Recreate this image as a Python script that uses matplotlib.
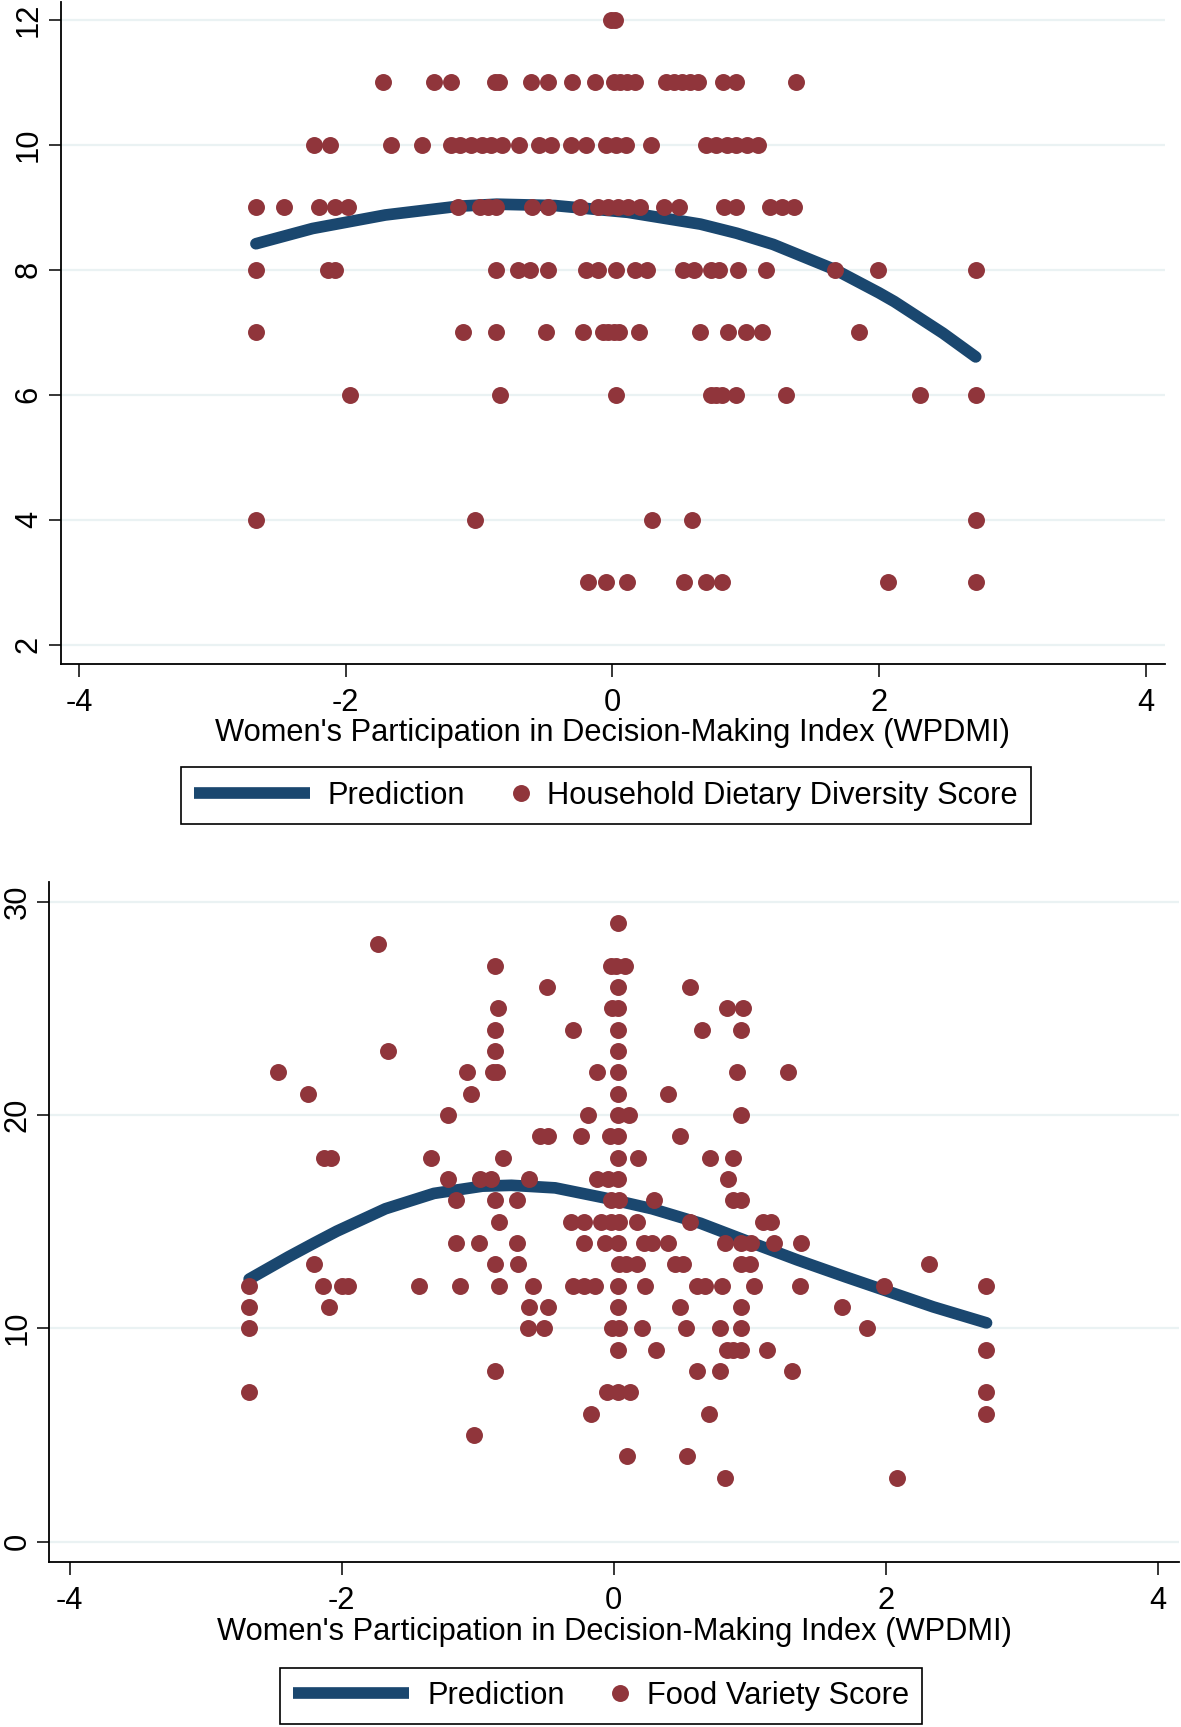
import numpy as np
import matplotlib
matplotlib.use("Agg")
import matplotlib.pyplot as plt
from matplotlib.lines import Line2D
from matplotlib.legend_handler import HandlerBase

plt.rcParams['font.family'] = ['Liberation Sans', 'DejaVu Sans']
plt.rcParams['axes.unicode_minus'] = False

NAVY = '#1A476F'
MAROON = '#90353B'
GRID = '#EAF2F3'
FS = 22.2

# ---------------- Top panel: Household Dietary Diversity Score ----------------
hdds_x_12 = [-0.01, 0.02]
hdds_x_11 = [-1.72, -1.34, -1.21, -0.88, -0.85, -0.61, -0.48, -0.30, -0.13, 0.01, 0.06,
             0.11, 0.17, 0.40, 0.46, 0.52, 0.58, 0.64, 0.83, 0.93, 1.38]
hdds_x_10 = [-2.24, -2.12, -1.66, -1.43, -1.21, -1.14, -1.06, -0.98, -0.91, -0.83, -0.70,
             -0.55, -0.46, -0.31, -0.20, -0.05, 0.03, 0.10, 0.29, 0.70, 0.78, 0.86, 0.93,
             1.01, 1.09]
hdds_x_9 = [-2.67, -2.46, -2.20, -2.08, -1.98, -1.16, -0.99, -0.93, -0.87, -0.60, -0.48,
            -0.24, -0.11, -0.03, 0.04, 0.12, 0.21, 0.39, 0.50, 0.84, 0.93, 1.18, 1.27, 1.36]
hdds_x_8 = [-2.67, -2.13, -2.08, -0.87, -0.71, -0.62, -0.48, -0.20, -0.11, 0.03, 0.17, 0.26,
            0.53, 0.61, 0.74, 0.80, 0.94, 1.15, 1.67, 1.99, 2.73]
hdds_x_7 = [-2.67, -1.12, -0.87, -0.50, -0.22, -0.07, -0.03, 0.01, 0.05, 0.20, 0.66, 0.87,
            1.00, 1.12, 1.85]
hdds_x_6 = [-1.97, -0.84, 0.03, 0.74, 0.78, 0.82, 0.93, 1.30, 2.31, 2.73]
hdds_x_4 = [-2.67, -1.03, 0.30, 0.60, 2.73]
hdds_x_3 = [-0.18, -0.05, 0.11, 0.54, 0.70, 0.82, 2.07, 2.73]

hdds_levels = [12, 11, 10, 9, 8, 7, 6, 4, 3]
hdds_rows = [hdds_x_12, hdds_x_11, hdds_x_10, hdds_x_9, hdds_x_8, hdds_x_7, hdds_x_6,
             hdds_x_4, hdds_x_3]

hdds_pred_x = [-2.674, -2.249, -1.704, -1.158, -0.867, -0.431, 0.115, 0.660, 0.933, 1.206,
               1.671, 2.0, 2.115, 2.479, 2.725]
hdds_pred_y = [8.416, 8.66, 8.876, 9.016, 9.049, 9.027, 8.919, 8.73, 8.584, 8.405,
               8.0, 7.63, 7.49, 6.985, 6.605]

# ---------------- Bottom panel: Food Variety Score ----------------
fvs_x_29 = [0.03]
fvs_x_28 = [-1.73]
fvs_x_27 = [-0.87, -0.02, 0.02, 0.08]
fvs_x_26 = [-0.49, 0.03, 0.56]
fvs_x_25 = [-0.85, -0.01, 0.03, 0.83, 0.95]
fvs_x_24 = [-0.87, -0.30, 0.03, 0.65, 0.94]
fvs_x_23 = [-1.66, -0.87, 0.03]
fvs_x_22 = [-2.47, -1.08, -0.89, -0.86, -0.12, 0.03, 0.91, 1.28]
fvs_x_21 = [-2.25, -1.05, 0.03, 0.40]
fvs_x_20 = [-1.22, -0.19, 0.03, 0.11, 0.94]
fvs_x_19 = [-0.54, -0.48, -0.24, -0.03, 0.03, 0.49]
fvs_x_18 = [-2.13, -2.08, -1.34, -0.81, 0.03, 0.18, 0.71, 0.88]
fvs_x_17 = [-1.22, -0.98, -0.90, -0.62, -0.12, -0.04, 0.03, 0.84]
fvs_x_16 = [-1.16, -0.87, -0.71, -0.02, 0.04, 0.30, 0.88, 0.94]
fvs_x_15 = [-0.84, -0.31, -0.22, -0.09, -0.02, 0.04, 0.17, 0.56, 1.10, 1.16]
fvs_x_14 = [-1.16, -0.99, -0.71, -0.22, -0.06, 0.03, 0.22, 0.28, 0.40, 0.82, 0.94, 1.01,
            1.18, 1.38]
fvs_x_13 = [-2.20, -0.87, -0.70, 0.04, 0.09, 0.17, 0.45, 0.51, 0.94, 1.00, 2.32]
fvs_x_12 = [-2.68, -2.14, -2.00, -1.95, -1.43, -1.13, -0.84, -0.59, -0.30, -0.22, -0.14,
            0.03, 0.23, 0.61, 0.67, 0.80, 1.03, 1.37, 1.99, 2.74]
fvs_x_11 = [-2.68, -2.09, -0.62, -0.48, 0.03, 0.49, 0.94, 1.68]
fvs_x_10 = [-2.68, -0.63, -0.51, -0.01, 0.04, 0.21, 0.53, 0.78, 0.94, 1.86]
fvs_x_9 = [0.03, 0.31, 0.83, 0.88, 0.94, 1.13, 2.74]
fvs_x_8 = [-0.87, 0.61, 0.78, 1.31]
fvs_x_7 = [-2.68, -0.05, 0.03, 0.12, 2.74]
fvs_x_6 = [-0.17, 0.70, 2.74]
fvs_x_5 = [-1.03]
fvs_x_4 = [0.10, 0.54]
fvs_x_3 = [0.82, 2.08]

fvs_levels = [29, 28, 27, 26, 25, 24, 23, 22, 21, 20, 19, 18, 17, 16, 15, 14, 13, 12,
              11, 10, 9, 8, 7, 6, 5, 4, 3]
fvs_rows = [fvs_x_29, fvs_x_28, fvs_x_27, fvs_x_26, fvs_x_25, fvs_x_24, fvs_x_23,
            fvs_x_22, fvs_x_21, fvs_x_20, fvs_x_19, fvs_x_18, fvs_x_17, fvs_x_16,
            fvs_x_15, fvs_x_14, fvs_x_13, fvs_x_12, fvs_x_11, fvs_x_10, fvs_x_9,
            fvs_x_8, fvs_x_7, fvs_x_6, fvs_x_5, fvs_x_4, fvs_x_3]

fvs_pred_x = [-2.68, -2.39, -2.2, -2.035, -1.678, -1.321, -0.965, -0.751, -0.43, -0.074,
              0.283, 0.639, 0.996, 1.351, 1.708, 1.993, 2.35, 2.742]
fvs_pred_y = [12.30, 13.35, 14.0, 14.55, 15.6, 16.32, 16.66, 16.70, 16.58, 16.12,
              15.6, 14.92, 14.05, 13.2, 12.4, 11.78, 11.0, 10.25]

x_ticks = [-4, -2, 0, 2, 4]
hdds_yticks = [2, 4, 6, 8, 10, 12]
fvs_yticks = [0, 10, 20, 30]
xlabel = "Women's Participation in Decision-Making Index (WPDMI)"


def flatten(levels, rows):
    xs, ys = [], []
    for lev, row in zip(levels, rows):
        xs.extend(row)
        ys.extend([lev] * len(row))
    return np.array(xs), np.array(ys)


W, H = 1181, 1727
fig = plt.figure(figsize=(W / 100, H / 100), dpi=100)


def px_axes(left, top, right, bottom):
    return fig.add_axes([left / W, 1 - bottom / H, (right - left) / W, (bottom - top) / H])


ax1 = px_axes(60.5, 2, 1165, 664)
ax2 = px_axes(49.2, 882, 1179, 1562)

MS = 149
LW = 8.4


def draw(ax, levels, rows, px, py, xlim, ylim, yticks, label_y):
    x, y = flatten(levels, rows)
    ax.plot(px, py, color=NAVY, lw=LW, solid_capstyle='round',
            solid_joinstyle='round', zorder=2)
    ax.scatter(x, y, s=MS, color=MAROON, linewidths=0, zorder=3)
    ax.set_xlim(*xlim)
    ax.set_ylim(*ylim)
    ax.set_xticks(x_ticks)
    ax.set_yticks(yticks)
    ax.grid(axis='y', color=GRID, lw=1.6)
    ax.grid(axis='x', visible=False)
    ax.set_axisbelow(True)
    for s in ['top', 'right']:
        ax.spines[s].set_visible(False)
    for s in ['left', 'bottom']:
        ax.spines[s].set_linewidth(1.3)
    ax.tick_params(length=9, width=1.1, labelsize=FS, direction='out', color='black')
    ax.tick_params(axis='x', pad=8)
    ax.tick_params(axis='y', pad=3)
    for lab in ax.get_yticklabels():
        lab.set_rotation(90)
        lab.set_va('center')
    ax.set_xlabel(xlabel, fontsize=FS)
    ax.xaxis.set_label_coords(0.5, label_y)
    ax.xaxis.label.set_va('center')


draw(ax1, hdds_levels, hdds_rows, hdds_pred_x, hdds_pred_y,
     (-4.14, 4.145), (1.69, 12.285), hdds_yticks, -0.1036)
draw(ax2, fvs_levels, fvs_rows, fvs_pred_x, fvs_pred_y,
     (-4.15, 4.157), (-0.96, 30.92), fvs_yticks, -0.1024)


class LineHandle(HandlerBase):
    def create_artists(self, legend, orig_handle, xdescent, ydescent, width, height,
                       fontsize, trans):
        y = height / 2 - ydescent
        ln = Line2D([-xdescent, -xdescent + width], [y, y], color=NAVY, lw=LW,
                    solid_capstyle='butt', transform=trans)
        return [ln]


class DotHandle(HandlerBase):
    def create_artists(self, legend, orig_handle, xdescent, ydescent, width, height,
                       fontsize, trans):
        y = height / 2 - ydescent
        d = 12.2
        m = Line2D([-xdescent + width - d / 2], [y], ls='none', marker='o', ms=d,
                   mfc=MAROON, mec='none', transform=trans)
        return [m]


def add_legend(label2, left_px, yc_px):
    h1 = Line2D([], [])
    h2 = Line2D([], [])
    leg = fig.legend(handles=[h1, h2], labels=['Prediction', label2],
                     handler_map={h1: LineHandle(), h2: DotHandle()},
                     ncol=2, loc='center left',
                     bbox_to_anchor=(left_px / W, 1 - yc_px / H),
                     bbox_transform=fig.transFigure, fontsize=FS,
                     handlelength=3.76, handletextpad=0.585, columnspacing=-1.69,
                     borderpad=0.43, borderaxespad=0, frameon=True, fancybox=False,
                     edgecolor='black', framealpha=1)
    leg.get_frame().set_linewidth(1.2)
    return leg


add_legend('Household Dietary Diversity Score', 180.7, 795.5)
add_legend('Food Variety Score', 280, 1696)

fig.savefig('out.png', dpi=100)
